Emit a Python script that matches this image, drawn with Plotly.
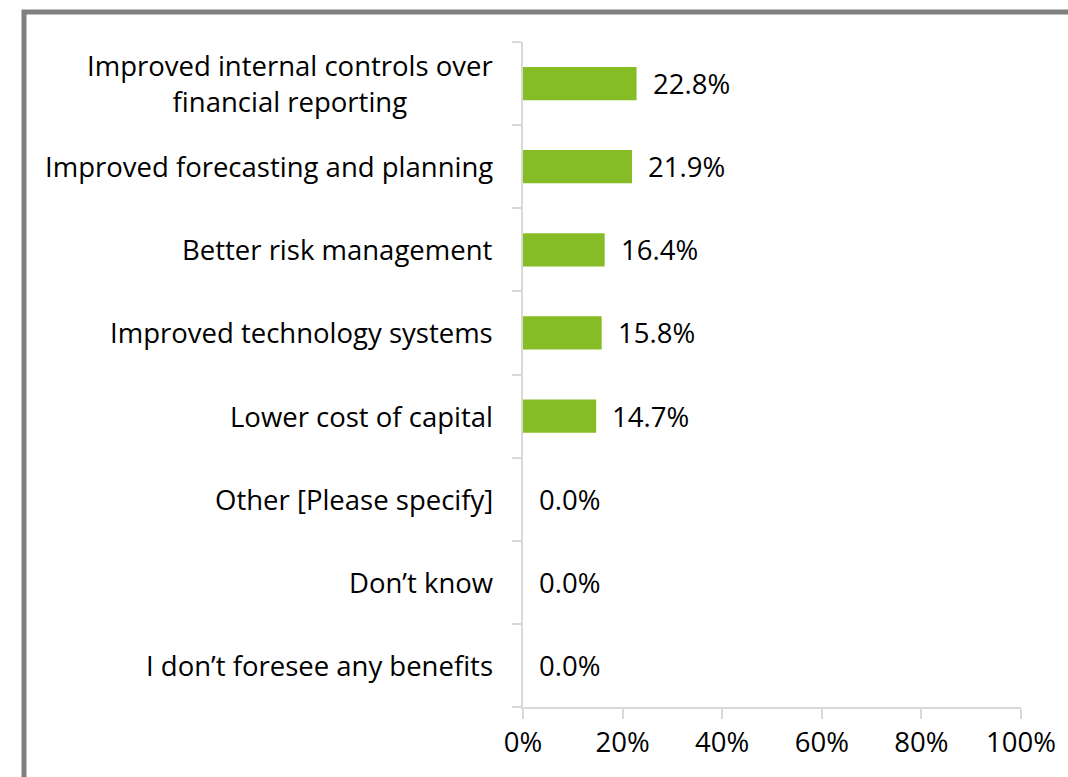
import plotly.graph_objects as go

categories = [
    "Improved internal controls over<br>financial reporting",
    "Improved forecasting and planning",
    "Better risk management",
    "Improved technology systems",
    "Lower cost of capital",
    "Other [Please specify]",
    "Don\u2019t know",
    "I don\u2019t foresee any benefits",
]
values = [22.8, 21.9, 16.4, 15.8, 14.7, 0.0, 0.0, 0.0]
tick_vals = [0, 20, 40, 60, 80, 100]
tick_text = ["0%", "20%", "40%", "60%", "80%", "100%"]

FONT = "Open Sans"
FS = 27.5
BAR = "#86bc25"
AX = "#d9d9d9"

cats_rev = categories[::-1]
vals_rev = values[::-1]

fig = go.Figure()
fig.add_trace(go.Bar(
    x=vals_rev, y=cats_rev, orientation="h",
    marker=dict(color=BAR, line=dict(width=0)),
    width=0.4, hoverinfo="skip",
))

annotations = []
for c, v in zip(cats_rev, vals_rev):
    annotations.append(dict(
        x=v, y=c, xref="x", yref="y", text=f"{v:.1f}%",
        showarrow=False, xanchor="left", yanchor="middle", xshift=14,
        font=dict(family=FONT, size=FS, color="#000000"),
    ))
    annotations.append(dict(
        x=0, y=c, xref="paper", yref="y", text=c,
        showarrow=False, xanchor="right", yanchor="middle", xshift=-28,
        align="center",
        font=dict(family=FONT, size=FS, color="#000000"),
    ))

fig.update_layout(
    width=1068, height=777,
    margin=dict(l=523, r=45, t=42, b=70),
    paper_bgcolor="white", plot_bgcolor="white",
    showlegend=False,
    annotations=annotations,
    xaxis=dict(
        range=[0, 100], tickvals=tick_vals, ticktext=tick_text,
        showgrid=False, zeroline=False,
        showline=True, linecolor=AX, linewidth=2,
        ticks="outside", ticklen=10, tickcolor=AX, tickwidth=2,
        tickfont=dict(family=FONT, size=FS, color="#000000"),
        fixedrange=True,
    ),
    yaxis=dict(
        type="category", categoryorder="array", categoryarray=cats_rev,
        range=[-0.5, 7.5],
        showticklabels=False, showgrid=False, zeroline=False,
        showline=True, linecolor=AX, linewidth=2,
        ticks="outside", tickson="boundaries", ticklen=9, tickcolor=AX, tickwidth=2,
        fixedrange=True,
    ),
    shapes=[dict(
        type="rect", xref="paper", yref="paper",
        x0=-1.002, x1=1.3, y0=-0.3, y1=1.045,
        line=dict(color="#808080", width=5), fillcolor="rgba(0,0,0,0)",
        layer="below",
    )],
)

fig.write_html(
    "out.html",
    config={"displayModeBar": False},
    post_script="document.body.style.margin='0';document.body.style.overflow='hidden';",
)
